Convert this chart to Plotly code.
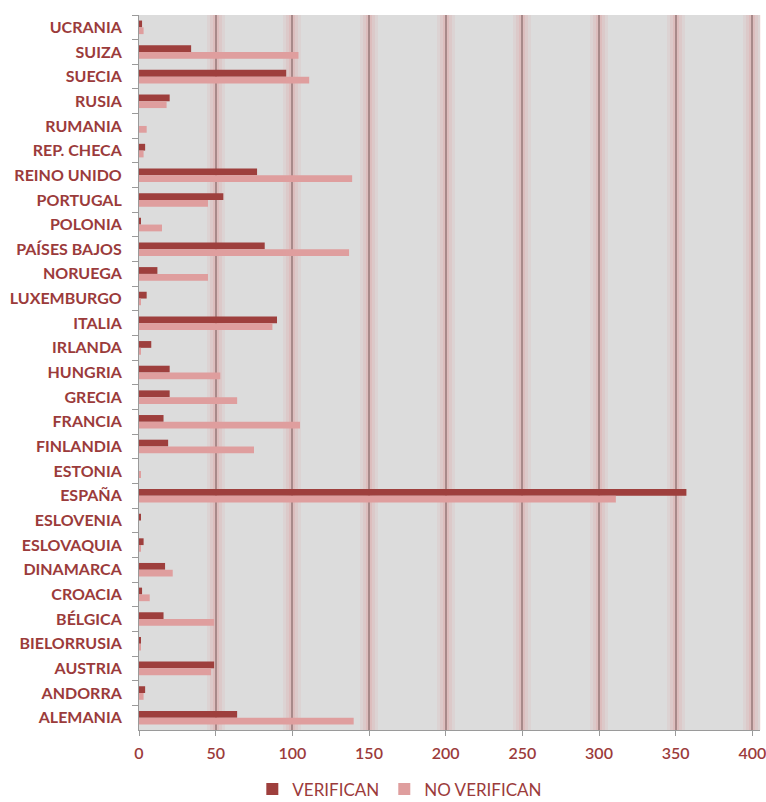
import plotly.graph_objects as go

countries = ["UCRANIA", "SUIZA", "SUECIA", "RUSIA", "RUMANIA", "REP. CHECA", "REINO UNIDO",
             "PORTUGAL", "POLONIA", "PAÍSES BAJOS", "NORUEGA", "LUXEMBURGO", "ITALIA", "IRLANDA",
             "HUNGRIA", "GRECIA", "FRANCIA", "FINLANDIA", "ESTONIA", "ESPAÑA", "ESLOVENIA",
             "ESLOVAQUIA", "DINAMARCA", "CROACIA", "BÉLGICA", "BIELORRUSIA", "AUSTRIA",
             "ANDORRA", "ALEMANIA"]
verifican = [2, 34, 96, 20, 0, 4, 77, 55, 1, 82, 12, 5, 90, 8, 20, 20, 16, 19, 0, 357, 1,
             3, 17, 2, 16, 1, 49, 4, 64]
no_verifican = [3, 104, 111, 18, 5, 3, 139, 45, 15, 137, 45, 1, 87, 1, 53, 64, 105, 75, 1, 311, 0,
                1, 22, 7, 49, 1, 47, 3, 140]
x_ticks = [0, 50, 100, 150, 200, 250, 300, 350, 400]

label_color = "#9b3b3b"
fig = go.Figure()
fig.add_trace(go.Bar(y=countries, x=verifican, orientation="h", name="VERIFICAN",
                     marker=dict(color="#9e3f3d", line=dict(width=0))))
fig.add_trace(go.Bar(y=countries, x=no_verifican, orientation="h", name="NO VERIFICAN",
                     marker=dict(color="#df9e9e", line=dict(width=0))))

# soft pink glow around the gridlines, drawn with overlay axes
glows = [("x2", 18, 0.10), ("x3", 12, 0.13), ("x4", 6, 0.18)]
glow_axes = {}
for ax, w, a in glows:
    fig.add_trace(go.Scatter(x=[0], y=[countries[0]], xaxis=ax, mode="markers",
                             marker=dict(opacity=0), showlegend=False, hoverinfo="skip"))
    glow_axes["xaxis" + ax[1:]] = dict(
        range=[0, 405], tickvals=x_ticks, overlaying="x", matches="x", showgrid=True,
        gridcolor=f"rgba(225,140,140,{a})", gridwidth=w, showticklabels=False,
        zeroline=False, showline=False, ticks="", automargin=False)

n = len(countries)
fig.update_layout(
    width=766, height=802,
    margin=dict(l=139, r=6, t=15, b=72, autoexpand=False),
    paper_bgcolor="white",
    plot_bgcolor="#dcdcdc",
    barmode="group",
    bargap=0.45,
    bargroupgap=0,
    font=dict(family="Lato", size=16, color=label_color),
    showlegend=True,
    legend=dict(orientation="h", x=0.42, xanchor="center", y=-0.058, yanchor="top",
                font=dict(family="Lato", size=17, color=label_color), traceorder="normal",
                itemwidth=30),
    xaxis=dict(range=[0, 405], tickvals=x_ticks, showgrid=True, gridcolor="#8a8a8a", gridwidth=2,
               zeroline=False, showline=True, linecolor="#9a9a9a", linewidth=1,
               ticks="outside", ticklen=5, tickcolor="#9a9a9a", automargin=False,
               ticklabelstandoff=4, ticklabeloverflow="allow",
               tickfont=dict(family="Lato", size=16, color=label_color, weight=600)),
    yaxis=dict(range=[n - 0.5, -0.5], type="category", showgrid=False, zeroline=False,
               showline=True, linecolor="#9a9a9a", linewidth=1, automargin=False,
               ticks="outside", ticklen=6, tickcolor="#9a9a9a", tickson="boundaries",
               ticklabelstandoff=13,
               tickfont=dict(family="Lato", size=16, color=label_color, weight="bold")),
    **glow_axes,
)

# remove the default page margin so the figure fills the window exactly
fig.write_html("out.html", config={"displayModeBar": False},
               post_script="document.body.style.margin='0';document.body.style.overflow='hidden';")
